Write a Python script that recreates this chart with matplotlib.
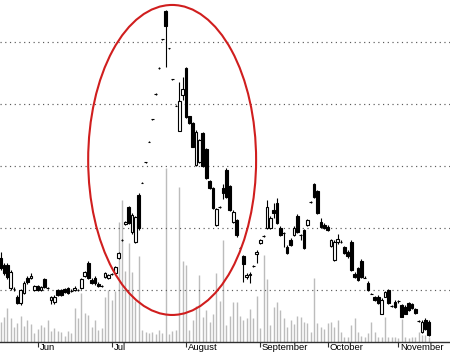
import matplotlib
matplotlib.use("Agg")
import matplotlib.pyplot as plt
from matplotlib.patches import Ellipse
import matplotlib.transforms as mtransforms

# ---------------- data ----------------
opens = [15.2,14.0,14.0,10.3,10.15,8.9,7.9,9.5,11.9,11.9,
         10.0,10.6,10.0,11.8,10.3,8.4,8.1,10.0,10.0,10.2,
         10.3,9.8,10.0,10.0,10.3,12.3,14.4,11.6,11.9,11.0,
         10.6,12.1,11.9,12.6,12.7,15.2,18.1,20.6,23.4,19.4,
         17.7,25.3,27.3,30.6,33.9,37.5,41.6,45.8,50.4,55.0,
         49.0,44.0,39.7,35.7,41.5,45.8,38.0,36.9,30.2,30.7,
         35.3,32.7,27.5,26.4,20.5,23.4,26.5,29.4,26.7,21.0,
         21.3,16.8,15.5,12.1,12.4,13.9,15.8,17.6,18.7,20.0,
         20.0,22.9,24.0,20.0,19.2,17.0,18.1,18.9,21.9,18.9,
         19.7,20.5,24.2,27.1,26.0,21.0,20.5,20.2,17.1,14.8,
         17.8,17.8,16.9,16.2,17.8,12.6,13.5,14.7,12.0,11.2,
         9.4,8.8,8.9,6.2,8.9,10.0,7.4,8.1,8.3,7.6,
         7.3,7.9,7.7,6.9,5.0,3.3,5.2,4.9]
closes = [13.5,12.7,12.1,12.9,10.2,7.9,10.0,11.1,11.3,12.3,
          10.6,10.0,10.5,10.5,10.3,8.9,8.9,9.2,9.2,9.7,
          9.5,9.8,10.3,10.0,11.8,12.9,11.9,11.1,11.1,10.6,
          10.6,12.7,12.4,12.6,13.7,16.0,18.1,21.0,20.8,22.1,
          21.8,20.0,27.3,30.6,33.9,37.5,41.6,45.8,50.4,52.5,
          49.0,44.0,39.7,40.4,42.4,37.9,36.9,33.1,35.5,34.2,
          30.0,28.0,26.4,23.2,23.0,23.4,25.6,25.0,22.9,22.6,
          18.9,16.8,14.2,12.4,12.6,13.9,16.1,18.1,18.7,23.4,
          21.6,22.4,20.8,18.9,19.2,15.9,17.3,20.0,19.4,18.9,
          16.8,21.3,24.2,25.0,22.4,20.1,20.0,19.7,18.0,17.8,
          18.3,17.8,16.0,15.4,13.2,12.1,11.6,12.1,12.0,10.0,
          9.4,8.4,7.9,8.4,9.6,7.9,7.4,7.3,8.3,5.7,
          6.2,6.8,7.1,6.3,5.0,4.9,3.7,2.7]
highs = [16.1,14.4,14.4,13.2,10.5,9.2,10.2,11.5,12.3,12.7,
         10.8,10.8,10.6,11.9,10.5,9.0,9.2,10.2,10.2,10.3,
         10.5,10.2,10.6,10.2,11.9,13.1,14.7,11.9,12.3,11.3,
         10.8,12.9,12.6,12.7,13.9,16.1,18.2,21.1,23.5,22.4,
         21.9,25.6,27.4,30.7,34.0,37.6,41.7,45.9,50.5,55.1,
         49.1,44.1,39.8,43.6,44.4,46.0,38.1,37.1,35.8,34.4,
         35.5,32.9,27.7,26.6,23.2,23.5,27.1,29.7,26.9,22.9,
         21.5,16.9,15.6,12.7,12.9,14.0,16.5,18.2,18.8,24.5,
         21.9,24.0,24.8,20.3,19.4,17.3,18.4,20.3,22.3,19.0,
         19.8,21.5,24.4,27.3,26.1,21.6,20.8,20.5,18.2,18.1,
         19.0,18.0,17.1,16.5,18.1,12.9,13.7,15.0,12.2,11.5,
         9.5,9.0,9.2,8.7,9.8,10.2,7.5,8.4,8.4,7.7,
         7.6,8.1,7.9,7.1,5.1,5.2,5.5,5.2]
lows = [13.2,12.4,11.8,10.0,9.8,7.7,7.6,9.4,11.0,11.8,
        9.8,9.8,9.8,10.3,10.2,7.7,7.7,9.0,9.0,9.5,
        9.4,9.7,9.8,9.8,10.2,12.1,11.8,11.0,10.8,10.5,
        10.5,11.9,11.8,12.4,12.6,15.0,17.9,20.5,20.6,19.0,
        17.6,19.7,27.2,30.5,33.8,37.4,41.5,45.7,50.3,46.0,
        48.9,43.9,39.6,35.6,40.6,37.7,36.8,33.0,30.0,30.5,
        29.8,27.9,26.3,23.1,20.3,23.3,24.7,24.8,22.7,20.8,
        18.5,16.7,11.3,11.8,11.1,13.7,14.4,17.4,18.6,19.9,
        19.8,21.6,20.6,18.7,16.9,15.8,17.1,18.7,19.2,18.1,
        16.6,20.3,24.0,24.8,22.3,20.0,19.8,19.5,16.9,14.7,
        17.4,17.6,15.8,15.2,13.1,11.9,11.5,11.9,11.9,9.8,
        9.3,8.2,7.7,6.1,8.8,7.7,7.3,7.1,7.9,5.6,
        6.1,6.6,6.9,6.2,4.9,3.1,3.5,2.6]
volumes = [198,248,332,232,142,188,255,155,215,175,
           82,122,165,142,215,108,132,108,98,55,
           108,82,332,232,482,282,265,142,215,115,
           132,448,515,415,510,1200,1415,710,990,700,
           410,860,120,100,90,98,80,115,90,1735,
           80,108,120,1548,808,765,115,215,355,665,
           242,315,198,275,682,410,1015,165,255,398,
           398,255,215,232,330,232,455,132,865,622,
           165,348,398,315,232,150,215,180,255,242,
           200,185,98,632,188,142,122,182,198,142,
           215,98,48,45,165,232,98,55,48,82,
           198,98,42,48,242,48,48,42,32,222,
           42,32,48,42,98,65,65,48]

month_labels = ["Jun", "Jul", "August", "September", "October", "November"]
month_start = [11, 33, 55, 77, 97, 118]
grid_levels = [10, 20, 30, 40, 50]

n = len(closes)
x = list(range(n))

# ---------------- figure ----------------
fig = plt.figure(figsize=(4.5, 3.54), dpi=100)
pos = [0, 12.5 / 354, 1, 341.5 / 354]
xlim = (-0.15, 133.3)

axv = fig.add_axes(pos)
axv.vlines(x, 0, volumes, color="#bcbcbc", lw=1.0)
axv.set_xlim(*xlim)
axv.set_ylim(0, 3415)
axv.axis("off")

ax = fig.add_axes(pos)
ax.patch.set_visible(False)
ax.set_xlim(*xlim)
ax.set_ylim(1.69, 56.77)

# gridlines
ax.set_yticks(grid_levels)
ax.yaxis.grid(True, linestyle=(0, (1, 3)), color="#5a5a5a", lw=0.85)
ax.tick_params(axis="y", length=0, labelleft=False)

# candles
ax.vlines(x, lows, highs, color="black", lw=0.8, zorder=2)
up = [c > o for o, c in zip(opens, closes)]
bottoms = [min(o, c) for o, c in zip(opens, closes)]
heights = [abs(c - o) for o, c in zip(opens, closes)]
faces = ["white" if u else "black" for u in up]
ax.bar(x, heights, bottom=bottoms, width=0.8, color=faces,
       edgecolor="black", linewidth=0.8, zorder=3)

# red ellipse annotation
ax.add_patch(Ellipse((50.9, 30.97), width=49.8, height=50.0, fill=False,
                     edgecolor="#d01e1e", lw=1.5, zorder=4))

# x axis
for s in ["left", "right", "top"]:
    ax.spines[s].set_visible(False)
ax.spines["bottom"].set_color("#303030")
ax.spines["bottom"].set_linewidth(1.0)
ax.set_xticks(month_start)
ax.set_xticklabels([])
ax.tick_params(axis="x", direction="out", length=3.5, width=0.8, color="#303030")

trans = mtransforms.blended_transform_factory(ax.transData, ax.transAxes)
for m, lab in zip(month_start, month_labels):
    ax.text(m + 0.55, -0.004, lab, transform=trans, ha="left", va="top",
            fontsize=6.8, family=["Liberation Sans", "DejaVu Sans"], color="black")

fig.savefig("out.png", dpi=100)
